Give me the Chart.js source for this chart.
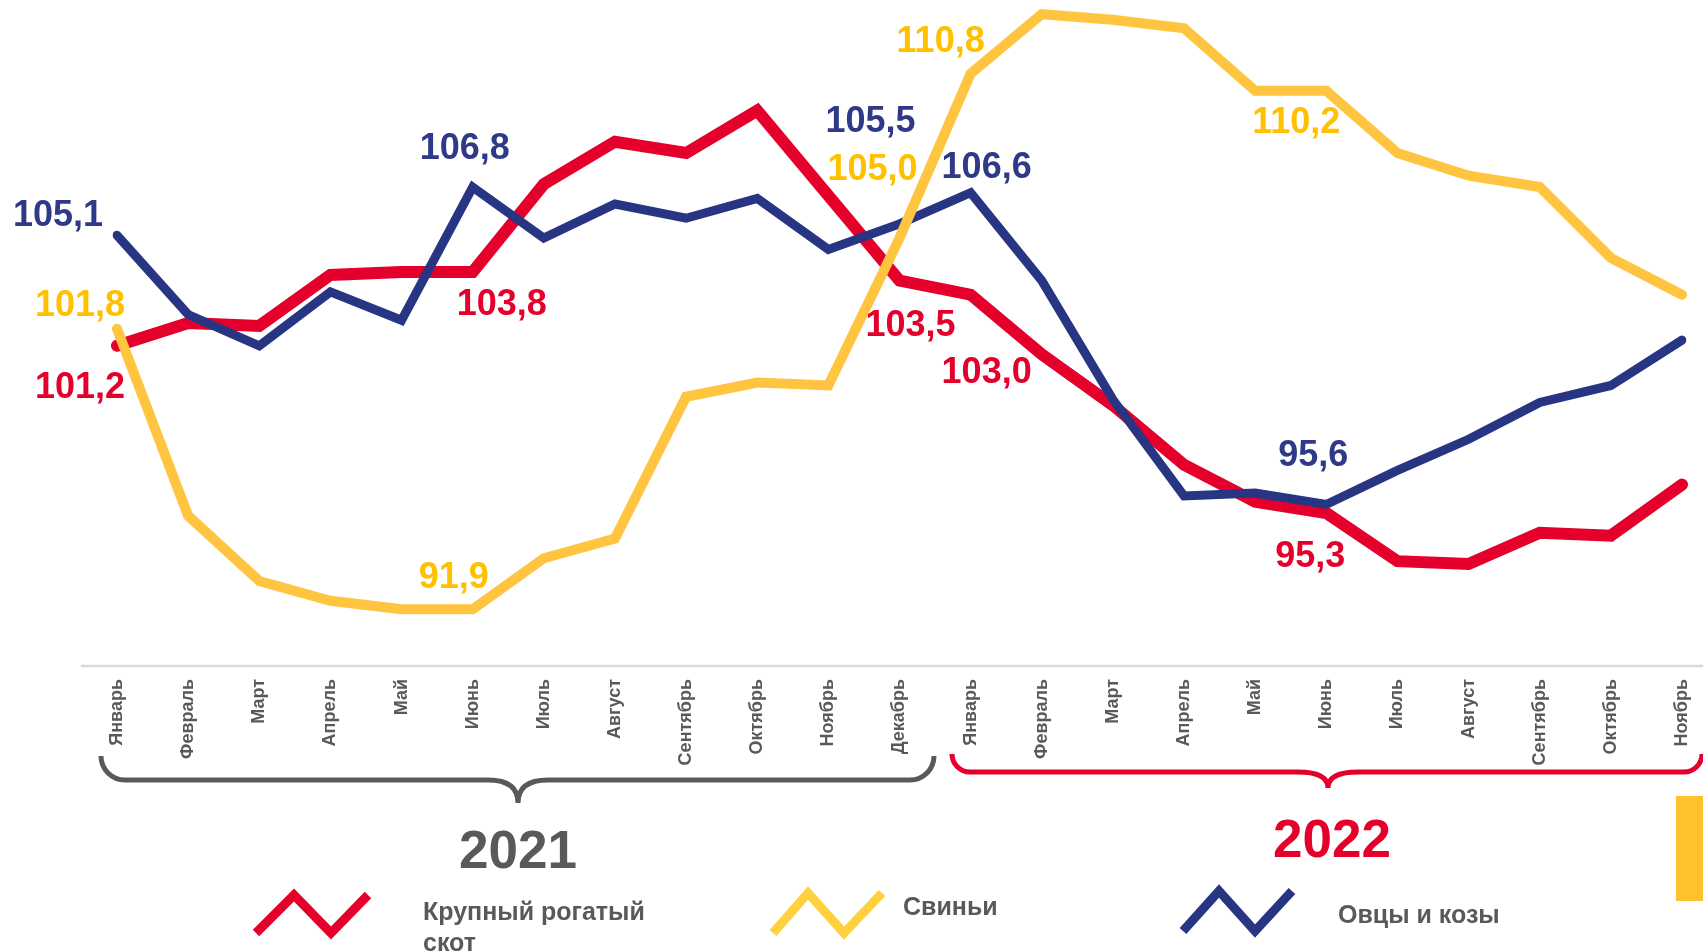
<!DOCTYPE html>
<html lang="ru">
<head>
<meta charset="utf-8">
<script src="https://cdn.jsdelivr.net/npm/chart.js@4"></script>
<style>
  body { margin: 0; background: #fff; }
  #wrap { position: relative; width: 1703px; height: 951px; overflow: hidden; font-family: "Liberation Sans", Arial, sans-serif; }
  .txt { position: absolute; font-weight: bold; white-space: nowrap; line-height: 1; }
  .year { font-size: 53px; transform: translate(-50%, -50%); }
  .leg { font-size: 25px; color: #595959; }
</style>
</head>
<body>
<div id="wrap">
  <canvas id="myChart" width="1703" height="951"></canvas>
  <div class="txt year" style="left:518px; top:849px; color:#595959;">2021</div>
  <div class="txt year" style="left:1332px; top:838px; color:#E4002B;">2022</div>
  <div class="txt leg" style="left:423px; top:896px; line-height:31px;">Крупный рогатый<br>скот</div>
  <div class="txt leg" style="left:903px; top:894px;">Свиньи</div>
  <div class="txt leg" style="left:1338px; top:902px;">Овцы и козы</div>
</div>
<script>
const months = ['Январь', 'Февраль', 'Март', 'Апрель', 'Май', 'Июнь', 'Июль', 'Август', 'Сентябрь', 'Октябрь', 'Ноябрь', 'Декабрь',
    'Январь', 'Февраль', 'Март', 'Апрель', 'Май', 'Июнь', 'Июль', 'Август', 'Сентябрь', 'Октябрь', 'Ноябрь'];

// Крупный рогатый скот
const cattle = [101.2, 102.0, 101.9, 103.7, 103.8, 103.8, 106.9, 108.4, 108.0, 109.5, 106.5, 103.5,
    103.0, 100.9, 99.1, 97.0, 95.7, 95.3, 93.6, 93.5, 94.6, 94.5, 96.3];
// Свиньи
const pigs = [101.8, 95.2, 92.9, 92.2, 91.9, 91.9, 93.7, 94.4, 99.4, 99.9, 99.8, 105.0,
    110.8, 112.9, 112.7, 112.4, 110.2, 110.2, 108.0, 107.2, 106.8, 104.3, 103.0];
// Овцы и козы
const sheep = [105.1, 102.3, 101.2, 103.1, 102.1, 106.8, 105.0, 106.2, 105.7, 106.4, 104.6, 105.5,
    106.6, 103.5, 99.3, 95.9, 96.0, 95.6, 96.8, 97.9, 99.2, 99.8, 101.4];

const RED = '#E4002B';
const BLUE = '#283583';
const YELLOW = '#FFC440';
const GRAY = '#595959';

// which points get a value label, and where the label sits relative to the point
const cattleLabels = [{ i: 0, dx: -37, dy: 42 }, { i: 5, dx: 29, dy: 33 }, { i: 11, dx: 11, dy: 46 }, { i: 12, dx: 16, dy: 78 }, { i: 17, dx: -16, dy: 44 }];
const pigsLabels = [{ i: 0, dx: -37, dy: -23 }, { i: 5, dx: -19, dy: -31 }, { i: 11, dx: -27, dy: -68 }, { i: 12, dx: -30, dy: -32 }, { i: 16, dx: 41, dy: 32 }];
const sheepLabels = [{ i: 0, dx: -59, dy: -19 }, { i: 5, dx: -8, dy: -38 }, { i: 11, dx: -29, dy: -102 }, { i: 12, dx: 16, dy: -25 }, { i: 17, dx: -13, dy: -48 }];

const valueLabels = {
    id: 'valueLabels',
    afterDatasetsDraw(chart) {
        const ctx = chart.ctx;
        ctx.save();
        ctx.font = 'bold 36px "Liberation Sans", Arial, sans-serif';
        ctx.textAlign = 'center';
        ctx.textBaseline = 'middle';
        chart.data.datasets.forEach((ds, d) => {
            const meta = chart.getDatasetMeta(d);
            ds.valueLabels.forEach(l => {
                const pt = meta.data[l.i];
                ctx.fillStyle = ds.labelColor;
                ctx.fillText(ds.data[l.i].toFixed(1).replace('.', ','), pt.x + l.dx, pt.y + l.dy);
            });
        });
        ctx.restore();
    }
};

function brace(ctx, x1, x2, xm, yTop, yLine, yTip, r, color) {
    ctx.strokeStyle = color;
    ctx.lineWidth = 5;
    ctx.lineCap = 'butt';
    ctx.beginPath();
    ctx.moveTo(x1, yTop);
    ctx.arcTo(x1, yLine, x1 + r, yLine, r);
    ctx.lineTo(xm - 30, yLine);
    ctx.quadraticCurveTo(xm, yLine, xm, yTip);
    ctx.moveTo(xm, yTip);
    ctx.quadraticCurveTo(xm, yLine, xm + 30, yLine);
    ctx.lineTo(x2 - r, yLine);
    ctx.arcTo(x2, yLine, x2, yTop, r);
    ctx.stroke();
}

function zigzag(ctx, pts, color) {
    ctx.strokeStyle = color;
    ctx.lineWidth = 9;
    ctx.lineJoin = 'miter';
    ctx.lineCap = 'butt';
    ctx.beginPath();
    pts.forEach((p, k) => k ? ctx.lineTo(p[0], p[1]) : ctx.moveTo(p[0], p[1]));
    ctx.stroke();
}

const decorations = {
    id: 'decorations',
    afterDraw(chart) {
        const ctx = chart.ctx;
        const bottom = chart.chartArea.bottom;
        ctx.save();
        // axis line
        ctx.strokeStyle = '#D9D9D9';
        ctx.lineWidth = 2.5;
        ctx.beginPath();
        ctx.moveTo(81, bottom);
        ctx.lineTo(chart.width, bottom);
        ctx.stroke();
        // year braces
        brace(ctx, 101, 934, 518, 756, 780, 803, 24, GRAY);
        brace(ctx, 952, 1702, 1328, 756, 772, 788, 18, RED);
        // yellow side block
        ctx.fillStyle = '#FFC12E';
        ctx.fillRect(1676, 796, 27, 105);
        // legend icons
        zigzag(ctx, [[256, 933], [294, 895], [331, 933], [368, 895]], RED);
        zigzag(ctx, [[773, 933], [808, 893], [844, 933], [882, 893]], '#FFD140');
        zigzag(ctx, [[1183, 931], [1219, 891], [1255, 931], [1292, 891]], BLUE);
        ctx.restore();
    }
};

const ctx = document.getElementById('myChart').getContext('2d');
new Chart(ctx, {
    type: 'line',
    data: {
        labels: months,
        datasets: [{
            label: 'Свиньи',
            data: pigs,
            borderColor: YELLOW,
            borderWidth: 10,
            labelColor: '#FFC000',
            valueLabels: pigsLabels,
        }, {
            label: 'Овцы и козы',
            data: sheep,
            borderColor: BLUE,
            borderWidth: 9,
            labelColor: '#2E3A87',
            valueLabels: sheepLabels,
        }, {
            label: 'Крупный рогатый скот',
            data: cattle,
            borderColor: RED,
            borderWidth: 12,
            labelColor: RED,
            valueLabels: cattleLabels,
        }],
    },
    options: {
        responsive: false,
        animation: false,
        layout: { padding: { left: 117, right: 21, top: 0, bottom: 0 } },
        elements: {
            point: { radius: 0, hoverRadius: 0 },
            line: { tension: 0, borderCapStyle: 'round', borderJoinStyle: 'miter', fill: false },
        },
        plugins: {
            legend: { display: false },
            tooltip: { enabled: false },
        },
        scales: {
            x: {
                offset: false,
                grid: { display: false, drawTicks: false },
                border: { display: false },
                ticks: {
                    color: GRAY,
                    font: { family: '"Liberation Sans", Arial, sans-serif', size: 18, weight: 'bold' },
                    minRotation: 90,
                    maxRotation: 90,
                    autoSkip: false,
                    padding: 13,
                },
                afterFit(scale) {
                    scale.height = 285;
                    scale.paddingLeft = 0;
                    scale.paddingRight = 0;
                },
            },
            y: {
                display: false,
                min: 89.9,
                max: 113.4,
            },
        },
    },
    plugins: [valueLabels, decorations],
});
</script>
</body>
</html>
